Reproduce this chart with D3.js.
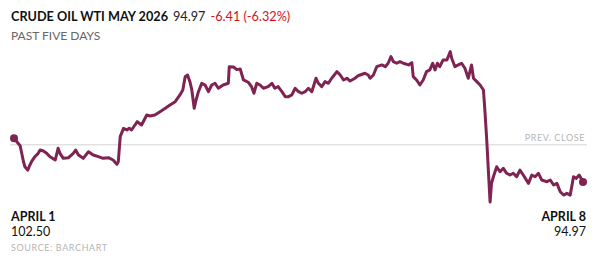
<!DOCTYPE html>
<html>
<head>
<meta charset="utf-8">
<script src="https://cdn.jsdelivr.net/npm/d3@7"></script>
<style>
  html, body { margin: 0; padding: 0; background: #fff; }
  body { width: 600px; height: 263px; overflow: hidden; }
  svg { display: block; font-family: Lato, "Open Sans", sans-serif; }
</style>
</head>
<body>
<script>
const width = 600;
const height = 263;

const title = "CRUDE OIL WTI MAY 2026";
const subtitle = "PAST FIVE DAYS";
const source = "SOURCE: BARCHART";
const lastPrice = 94.97;
const change = -6.41;
const changePct = -6.32;
const prevClose = 101.38;
const startLabel = "APRIL 1";
const endLabel = "APRIL 8";

// hours since the first print
const hours = [
  0, 1.3, 2.0, 2.3, 2.9, 3.2, 3.7, 4.4, 5.1, 5.5, 6.2, 6.9, 7.6, 8.7, 9.3, 9.7, 10.4, 11.5, 12.5, 13.0,
  13.6, 14.6, 15.7, 16.7, 17.8, 18.8, 19.9, 20.9, 21.7, 22.0, 22.4, 23.1, 23.8, 24.3, 24.8, 25.5, 26.0, 26.9, 28.0, 28.7,
  29.7, 30.8, 31.9, 32.9, 34.0, 35.0, 35.6, 36.1, 36.6, 37.1, 37.5, 38.0, 38.4, 38.9, 39.6, 40.3, 41.0, 41.7, 42.4, 43.1,
  44.1, 45.2, 45.4, 46.3, 47.0, 47.7, 48.4, 49.4, 50.1, 50.6, 51.2, 51.9, 52.6, 53.6, 54.4, 55.0, 55.7, 56.5, 57.2, 57.9,
  58.6, 59.3, 60.0, 60.7, 61.4, 62.1, 62.8, 63.7, 64.2, 64.9, 65.6, 66.3, 67.0, 68.1, 68.8, 69.5, 70.2, 70.9, 71.9, 72.6,
  73.0, 74.0, 74.7, 75.1, 75.8, 76.5, 77.6, 78.3, 78.9, 79.5, 80.0, 80.7, 81.4, 82.1, 83.2, 83.9, 84.2, 84.9, 85.6, 86.3,
  87.0, 87.7, 88.3, 88.8, 89.3, 89.8, 90.5, 91.3, 92.0, 92.3, 93.0, 93.7, 94.4, 95.1, 95.8, 96.5, 96.9, 97.6, 98.3, 99.0,
  99.3, 99.7, 100.0, 100.4, 100.7, 101.1, 101.8, 102.5, 103.2, 103.9, 104.6, 105.3, 106.0, 106.7, 107.4, 108.5, 109.2, 109.9, 110.6, 111.3,
  112.4, 113.1, 113.8, 114.5, 115.2, 115.9, 116.6, 117.3, 118.0, 118.6, 119.2, 120
];

const prices = [
  102.50, 101.22, 98.47, 97.60, 97.03, 97.60, 98.47, 99.33, 99.91, 100.48, 100.31, 99.91, 99.33, 98.76, 100.78, 99.91, 99.05, 99.16, 99.91, 100.48,
  99.62, 99.05, 100.19, 99.62, 99.33, 99.05, 99.16, 98.76, 98.02, 98.47, 102.78, 104.22, 103.93, 104.22, 103.93, 104.79, 105.36, 104.79, 106.52, 106.34,
  106.52, 107.09, 107.67, 108.24, 108.81, 109.97, 110.83, 113.12, 113.41, 112.26, 110.83, 107.67, 109.10, 110.53, 111.98, 111.69, 110.53, 111.69, 111.98, 111.12,
  111.69, 111.98, 114.84, 114.79, 114.33, 114.45, 112.55, 112.16, 111.40, 110.26, 111.98, 111.69, 111.12, 111.40, 111.98, 111.12, 111.40, 110.53, 109.67, 109.67,
  109.97, 111.12, 110.53, 110.26, 110.53, 111.12, 110.53, 112.84, 111.98, 111.40, 112.26, 111.98, 112.84, 113.98, 113.41, 112.55, 112.84, 112.38, 112.84, 113.29,
  113.41, 113.71, 113.41, 112.84, 113.41, 114.84, 115.14, 114.84, 115.43, 116.57, 115.71, 115.43, 115.71, 115.43, 115.14, 115.53, 113.12, 112.55, 111.69, 112.55,
  113.98, 114.28, 115.43, 114.28, 115.43, 114.84, 116.00, 116.00, 117.43, 116.29, 114.84, 115.14, 115.43, 114.57, 112.84, 115.14, 112.84, 112.26, 111.69, 110.83,
  107.38, 102.21, 97.60, 91.52, 94.74, 95.88, 97.60, 96.74, 97.33, 96.47, 96.17, 96.47, 95.88, 97.03, 96.17, 94.74, 96.17, 95.88, 96.47, 95.31,
  95.02, 95.31, 94.45, 94.74, 93.29, 92.72, 93.02, 92.72, 95.88, 95.60, 96.17, 94.97
];

const data = hours.map((h, i) => ({ h, p: prices[i] }));

const x = d3.scaleLinear().domain([0, 120]).range([14, 583]);
const y = d3.scaleLinear().domain([102.5, 94.97]).range([138.3, 182]);

const svg = d3.create("svg")
  .attr("width", width)
  .attr("height", height)
  .attr("viewBox", [0, 0, width, height]);

// header
const head = svg.append("text")
  .attr("x", 11)
  .attr("y", 20.5)
  .attr("font-size", 12.7);
head.append("tspan")
  .attr("font-weight", 700)
  .attr("fill", "#111")
  .text(title);
head.append("tspan")
  .attr("dx", 5)
  .attr("fill", "#222")
  .text(lastPrice.toFixed(2));
head.append("tspan")
  .attr("dx", 5)
  .attr("fill", "#d0111b")
  .text(`${change.toFixed(2)} (${changePct.toFixed(2)}%)`);

svg.append("text")
  .attr("x", 11)
  .attr("y", 39.5)
  .attr("font-size", 12)
  .attr("fill", "#666")
  .text(subtitle);

// previous close reference
svg.append("line")
  .attr("x1", 10)
  .attr("x2", 587)
  .attr("y1", y(prevClose))
  .attr("y2", y(prevClose))
  .attr("stroke", "#d3d3d3")
  .attr("stroke-width", 1);

svg.append("text")
  .attr("x", 585)
  .attr("y", y(prevClose) - 4)
  .attr("text-anchor", "end")
  .attr("font-size", 9)
  .attr("letter-spacing", "0.6")
  .attr("fill", "#b5b5b5")
  .text("PREV. CLOSE");

// price line
const line = d3.line()
  .x((d) => x(d.h))
  .y((d) => y(d.p));

svg.append("path")
  .datum(data)
  .attr("d", line)
  .attr("fill", "none")
  .attr("stroke", "#7f2352")
  .attr("stroke-width", 3)
  .attr("stroke-linejoin", "round")
  .attr("stroke-linecap", "round");

const first = data[0];
const last = data[data.length - 1];
svg.selectAll(".endpoint")
  .data([first, last])
  .join("circle")
  .attr("class", "endpoint")
  .attr("cx", (d) => x(d.h))
  .attr("cy", (d) => y(d.p))
  .attr("r", 4)
  .attr("fill", "#7f2352");

// bottom labels
const footLabel = (xPos, anchor, label, value) => {
  svg.append("text")
    .attr("x", xPos)
    .attr("y", 220.5)
    .attr("text-anchor", anchor)
    .attr("font-size", 12.5)
    .attr("font-weight", 700)
    .attr("fill", "#111")
    .text(label);
  svg.append("text")
    .attr("x", xPos)
    .attr("y", 236)
    .attr("text-anchor", anchor)
    .attr("font-size", 12.5)
    .attr("fill", "#111")
    .text(value.toFixed(2));
};
footLabel(11, "start", startLabel, first.p);
footLabel(586, "end", endLabel, last.p);

svg.append("text")
  .attr("x", 11)
  .attr("y", 251)
  .attr("font-size", 9)
  .attr("letter-spacing", "0.6")
  .attr("fill", "#b5b5b5")
  .text(source);

document.body.appendChild(svg.node());
</script>
</body>
</html>
